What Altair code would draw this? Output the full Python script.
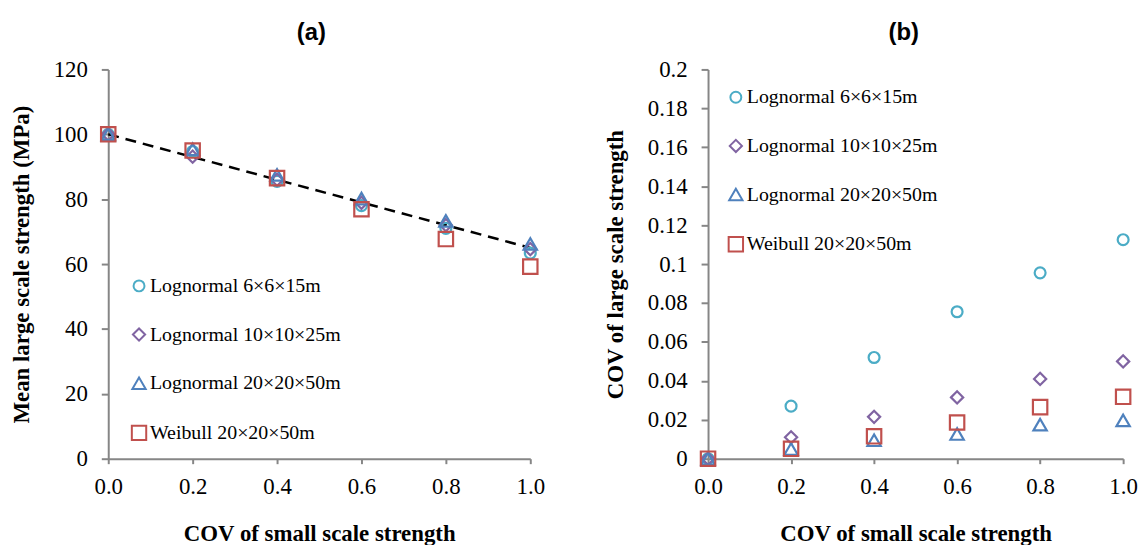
import altair as alt
import pandas as pd

# COV of small scale strength (x values shared by every series)
cov_small = [0.0, 0.2, 0.4, 0.6, 0.8, 1.0]

series_names = [
    "Lognormal 6×6×15m",
    "Lognormal 10×10×25m",
    "Lognormal 20×20×50m",
    "Weibull 20×20×50m",
]
series_shapes = ["circle", "diamond", "triangle-up", "square"]
series_colors = ["#4BACC6", "#8064A2", "#4F81BD", "#C0504D"]
series_sizes = [121, 210, 170, 128]

# (a) mean large scale strength, MPa
mean_ln_6 = [100.0, 94.7, 85.5, 78.0, 71.0, 63.4]
mean_ln_10 = [100.0, 93.1, 86.0, 78.9, 72.0, 64.6]
mean_ln_20 = [100.0, 95.4, 87.5, 80.2, 73.3, 66.2]
mean_wb_20 = [100.0, 95.0, 86.5, 76.9, 67.7, 59.2]

# dashed reference trend in (a)
trend_x = [0.0, 1.0]
trend_y = [100.0, 65.0]

# (b) COV of large scale strength
cov_ln_6 = [0.0, 0.027, 0.052, 0.0755, 0.0955, 0.1125]
cov_ln_10 = [0.0, 0.011, 0.0215, 0.0315, 0.041, 0.050]
cov_ln_20 = [0.0, 0.005, 0.0095, 0.0127, 0.0175, 0.0197]
cov_wb_20 = [0.0, 0.0051, 0.0115, 0.0186, 0.0265, 0.0318]

x_ticks = [0.0, 0.2, 0.4, 0.6, 0.8, 1.0]
ya_ticks = [0, 20, 40, 60, 80, 100, 120]
yb_ticks = [0.0, 0.02, 0.04, 0.06, 0.08, 0.1, 0.12, 0.14, 0.16, 0.18, 0.2]

SERIF = "Liberation Serif"
SANS = "Liberation Sans"
AXIS_GREY = "#868686"


def long_table(columns):
    rows = []
    for name, values in zip(series_names, columns):
        for x, y in zip(cov_small, values):
            rows.append({"cov": x, "value": y, "series": name, "marker": name})
    return pd.DataFrame(rows)


df_a = long_table([mean_ln_6, mean_ln_10, mean_ln_20, mean_wb_20])
df_b = long_table([cov_ln_6, cov_ln_10, cov_ln_20, cov_wb_20])
df_trend = pd.DataFrame({"cov": trend_x, "value": trend_y})

axis_style = dict(
    labelFont=SERIF,
    labelFontSize=23,
    labelColor="black",
    labelFlush=False,
    titleFont=SERIF,
    titleFontSize=23,
    titleFontWeight="bold",
    titleColor="black",
    domainColor=AXIS_GREY,
    domainWidth=2,
    tickColor=AXIS_GREY,
    tickWidth=2,
    grid=False,
)

x_axis = alt.Axis(
    title="COV of small scale strength",
    values=x_ticks,
    format=".1f",
    tickSize=5,
    labelPadding=12,
    titlePadding=24,
    **axis_style,
)


def x_enc():
    return alt.X("cov:Q", scale=alt.Scale(domain=[0, 1], nice=False, zero=False), axis=x_axis)


def legend(lx, ly):
    return alt.Legend(
        title=None,
        orient="none",
        legendX=lx,
        legendY=ly,
        labelFont=SERIF,
        labelFontSize=20,
        labelColor="black",
        labelLimit=0,
        symbolStrokeWidth=2,
        symbolSize=80,
        rowPadding=28,
        labelOffset=1,
    )


def scatter(df, y, lx, ly):
    lg = legend(lx, ly)
    return (
        alt.Chart(df)
        .mark_point(filled=False, strokeWidth=2.2, opacity=1, clip=False)
        .encode(
            x=x_enc(),
            y=y,
            shape=alt.Shape("series:N", scale=alt.Scale(domain=series_names, range=series_shapes), legend=lg),
            color=alt.Color("series:N", scale=alt.Scale(domain=series_names, range=series_colors), legend=lg),
            size=alt.Size("marker:N", scale=alt.Scale(domain=series_names, range=series_sizes), legend=None),
        )
    )


def y_axis(title, values, fmt):
    return alt.Axis(
        title=title,
        values=values,
        format=fmt,
        tickSize=7,
        labelPadding=14,
        titlePadding=20,
        **axis_style,
    )


ya = alt.Y(
    "value:Q",
    scale=alt.Scale(domain=[0, 120], nice=False),
    axis=y_axis("Mean large scale strength (MPa)", ya_ticks, "d"),
)
yb = alt.Y(
    "value:Q",
    scale=alt.Scale(domain=[0, 0.2], nice=False),
    axis=y_axis("COV of large scale strength", yb_ticks, "~g"),
)

trend = (
    alt.Chart(df_trend)
    .mark_line(color="black", strokeDash=[11, 7], strokeWidth=2.5)
    .encode(x=x_enc(), y=ya)
)

panel_a = alt.layer(trend, scatter(df_a, ya, 21, 208)).properties(
    width=425,
    height=392,
    title=alt.TitleParams("(a)", font=SANS, fontSize=24, fontWeight="bold", color="black",
                          anchor="middle", offset=14, dx=-8),
)

panel_b = scatter(df_b, yb, 18, 18).properties(
    width=418,
    height=392,
    title=alt.TitleParams("(b)", font=SANS, fontSize=24, fontWeight="bold", color="black",
                          anchor="middle", offset=14, dx=-12),
)

chart = (
    alt.hconcat(panel_a, panel_b, spacing=59)
    .resolve_scale(color="independent", shape="independent", size="independent")
    .resolve_legend(color="independent", shape="independent")
    .properties(padding={"left": 10, "top": 19, "right": 5, "bottom": 0}, background="white")
    .configure_view(stroke=None)
)

chart.save("out.html", embed_options={"renderer": "svg", "actions": False})
